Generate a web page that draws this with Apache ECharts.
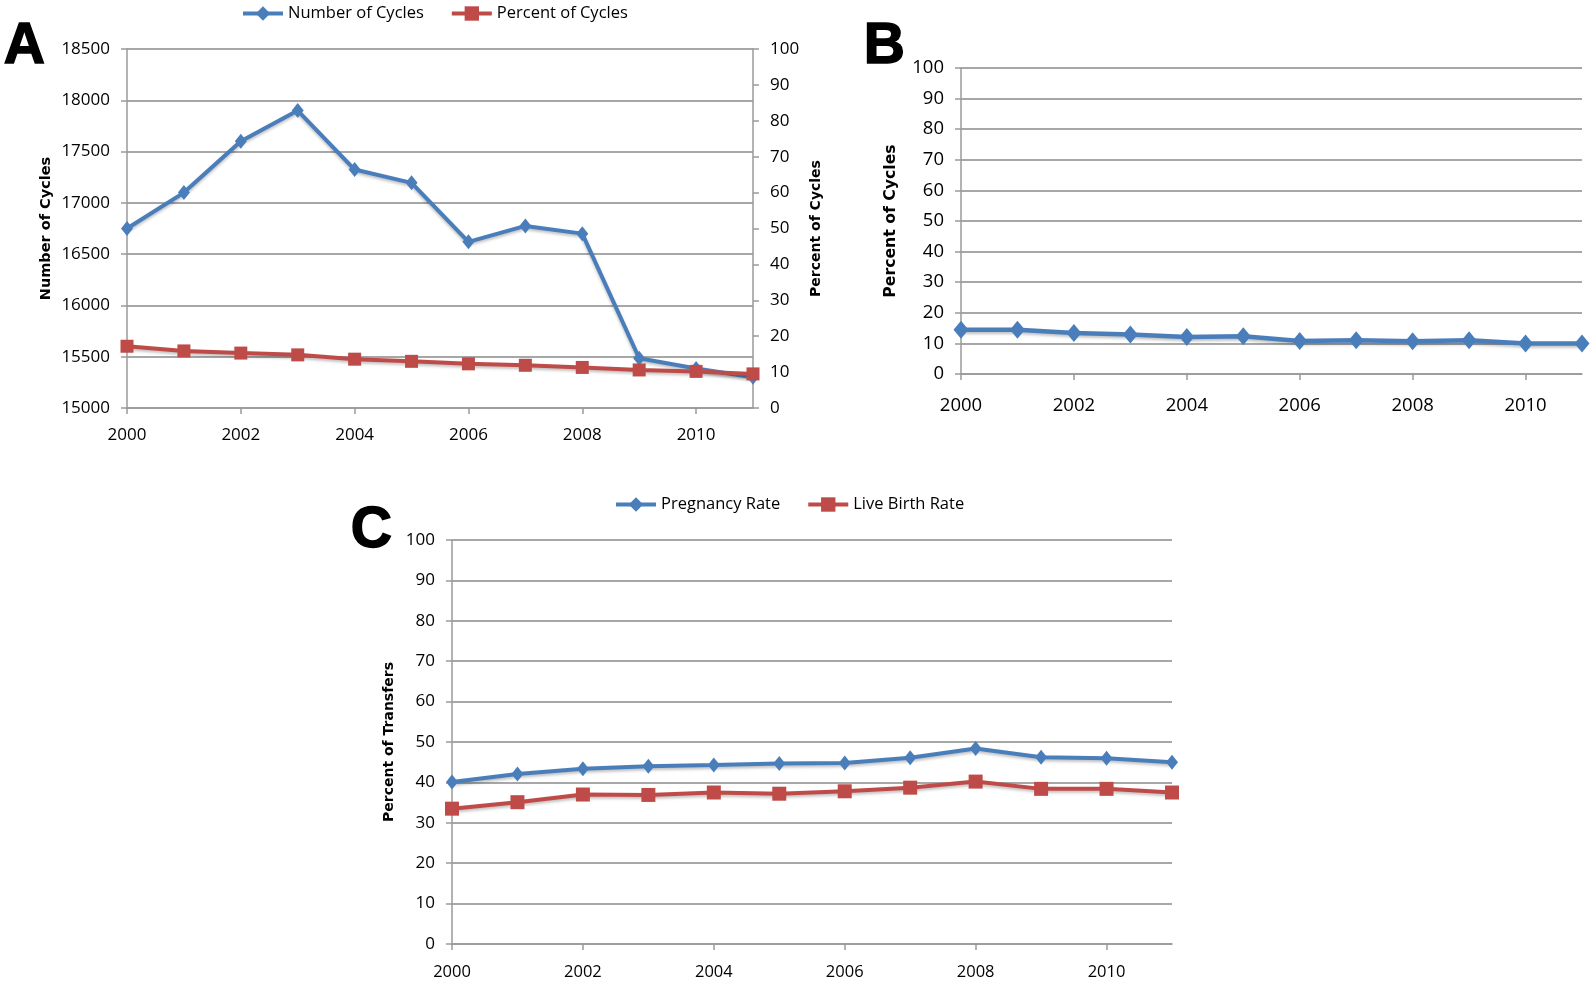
<!DOCTYPE html>
<html>
<head>
<meta charset="utf-8">
<script src="https://cdn.jsdelivr.net/npm/echarts@6/dist/echarts.min.js"></script>
<style>
  html, body { margin: 0; padding: 0; background: #ffffff; }
  #main { width: 1594px; height: 981px; }
</style>
</head>
<body>
<div id="main"></div>
<script>
// 年份（横轴）
const years = ['2000', '2001', '2002', '2003', '2004', '2005', '2006', '2007', '2008', '2009', '2010', '2011']
// A: 周期数 & 百分比
const cyclesNumber = [16750, 17100, 17600, 17900, 17325, 17195, 16620, 16775, 16700, 15485, 15385, 15300]
const cyclesPercentA = [17.2, 15.9, 15.3, 14.8, 13.6, 13.0, 12.3, 11.9, 11.3, 10.6, 10.2, 9.5]
// B: 百分比
const cyclesPercentB = [14.5, 14.5, 13.4, 12.9, 12.1, 12.3, 10.8, 11.0, 10.7, 11.0, 10.0, 10.0]
// C: 妊娠率 & 活产率
const pregnancyRate = [40.1, 42.1, 43.4, 44.0, 44.3, 44.7, 44.8, 46.1, 48.4, 46.2, 46.0, 45.0]
const liveBirthRate = [33.5, 35.1, 37.0, 36.9, 37.5, 37.2, 37.8, 38.7, 40.2, 38.4, 38.4, 37.5]

const BLUE = '#4a7ebb'
const RED = '#be4b48'
const GRID_GRAY = '#8a8a8a'
const AXIS_GRAY = '#9a9a9a'
const TICK_FONT = "'Open Sans', sans-serif"
const NAME_FONT = "'DejaVu Sans', sans-serif"

const lineShadow = {
    shadowBlur: 3,
    shadowColor: 'rgba(0,0,0,0.25)',
    shadowOffsetY: 2
}

const makeXAxis = (gridIndex, fontSize, margin) => ({
    type: 'category',
    gridIndex,
    data: years,
    boundaryGap: false,
    axisLine: { lineStyle: { color: AXIS_GRAY, width: 1.5 } },
    axisTick: { interval: 1, length: 6, lineStyle: { color: AXIS_GRAY, width: 1.5 } },
    axisLabel: { interval: 1, color: '#000', fontFamily: TICK_FONT, fontSize, margin },
    splitLine: { show: false }
})

const makeYAxis = (gridIndex, min, max, interval, name, nameSize, nameGap, fontSize, extra) => Object.assign({
    type: 'value',
    gridIndex,
    min,
    max,
    interval,
    name,
    nameLocation: 'middle',
    nameRotate: 90,
    nameGap,
    nameTextStyle: { fontFamily: NAME_FONT, fontWeight: 'bold', fontSize: nameSize, color: '#000' },
    axisLine: { show: true, lineStyle: { color: AXIS_GRAY, width: 1.5 } },
    axisTick: { show: true, length: 6, lineStyle: { color: AXIS_GRAY, width: 1.5 } },
    axisLabel: { color: '#000', fontFamily: TICK_FONT, fontSize, margin: 17, formatter: v => String(v) },
    splitLine: { show: true, lineStyle: { color: GRID_GRAY, width: 1.5 } }
}, extra || {})

const panelLetter = (text, x, y) => ({
    type: 'text',
    left: x,
    top: y,
    style: {
        text,
        fontFamily: "'Liberation Sans', Arial, sans-serif",
        fontWeight: 900,
        fontSize: 57,
        fill: '#000',
        stroke: '#000',
        lineWidth: 1.5
    }
})

const legendStyle = {
    itemWidth: 40,
    itemHeight: 18,
    itemGap: 26,
    itemStyle: { borderWidth: 0 },
    lineStyle: { width: 4 },
    textStyle: { fontFamily: TICK_FONT, fontSize: 16.5, color: '#000' }
}

const option = {
    backgroundColor: '#ffffff',
    animation: false,
    graphic: [
        panelLetter('A', 3, 18),
        panelLetter('B', 863, 18),
        panelLetter('C', 350, 502)
    ],
    legend: [
        Object.assign({ left: 236, top: 0, data: ['Number of Cycles', 'Percent of Cycles'] }, legendStyle),
        Object.assign({ left: 609, top: 491, data: ['Pregnancy Rate', 'Live Birth Rate'] }, legendStyle)
    ],
    grid: [
        { left: 127, right: 841, top: 49, height: 359 },
        { left: 961, right: 12, top: 68, height: 306 },
        { left: 452, right: 422, top: 540, height: 406 }
    ],
    xAxis: [
        makeXAxis(0, 17, 19),
        makeXAxis(1, 18.5, 22),
        makeXAxis(2, 16.5, 20)
    ],
    yAxis: [
        makeYAxis(0, 15000, 18500, 500, 'Number of Cycles', 14.5, 73, 17),
        makeYAxis(0, 0, 100, 10, 'Percent of Cycles', 14, 56, 17, {
            position: 'right',
            splitLine: { show: false }
        }),
        makeYAxis(1, 0, 100, 10, 'Percent of Cycles', 15.7, 62, 18.5),
        makeYAxis(2, 0, 100, 10, 'Percent of Transfers', 14, 56, 17)
    ],
    series: [
        {
            name: 'Number of Cycles',
            type: 'line',
            xAxisIndex: 0,
            yAxisIndex: 0,
            data: cyclesNumber,
            symbol: 'diamond',
            symbolSize: [12, 15],
            itemStyle: { color: BLUE },
            lineStyle: Object.assign({ color: BLUE, width: 4 }, lineShadow)
        },
        {
            name: 'Percent of Cycles',
            type: 'line',
            xAxisIndex: 0,
            yAxisIndex: 1,
            data: cyclesPercentA,
            symbol: 'rect',
            symbolSize: 13,
            itemStyle: { color: RED },
            lineStyle: Object.assign({ color: RED, width: 4 }, lineShadow)
        },
        {
            name: 'Percent of Cycles (B)',
            type: 'line',
            xAxisIndex: 1,
            yAxisIndex: 2,
            data: cyclesPercentB,
            symbol: 'diamond',
            symbolSize: [15, 18],
            itemStyle: { color: BLUE },
            lineStyle: Object.assign({ color: BLUE, width: 4.5 }, lineShadow)
        },
        {
            name: 'Pregnancy Rate',
            type: 'line',
            xAxisIndex: 2,
            yAxisIndex: 3,
            data: pregnancyRate,
            symbol: 'diamond',
            symbolSize: [12, 15],
            itemStyle: { color: BLUE },
            lineStyle: Object.assign({ color: BLUE, width: 4 }, lineShadow)
        },
        {
            name: 'Live Birth Rate',
            type: 'line',
            xAxisIndex: 2,
            yAxisIndex: 3,
            data: liveBirthRate,
            symbol: 'rect',
            symbolSize: 14,
            itemStyle: { color: RED },
            lineStyle: Object.assign({ color: RED, width: 4 }, lineShadow)
        }
    ]
}

const chart = echarts.init(document.getElementById('main'))
chart.setOption(option)
</script>
</body>
</html>
